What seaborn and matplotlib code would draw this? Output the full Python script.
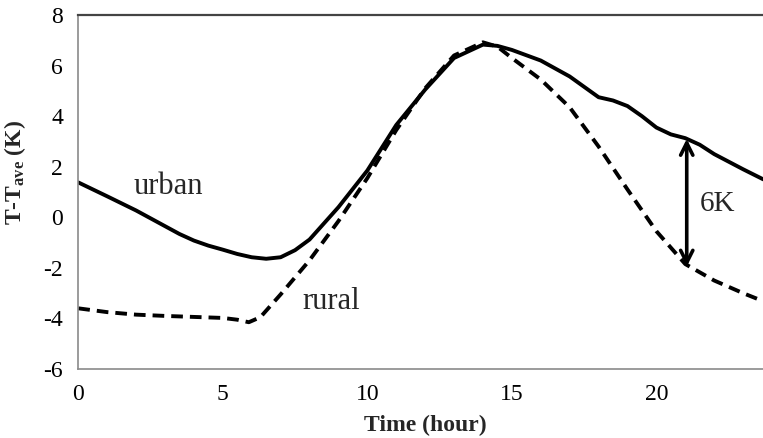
import matplotlib
matplotlib.use("Agg")
import matplotlib.pyplot as plt
import numpy as np
import pandas as pd
import seaborn as sns
from matplotlib.ticker import MultipleLocator

# ---- data ----
urban_hours = [0, 1, 2, 3, 3.5, 4, 4.5, 5, 5.5, 6, 6.5, 7, 7.5, 8, 9, 10, 11, 12, 13, 14,
               14.5, 15, 16, 17, 18, 18.5, 19, 19.5, 20, 20.5, 21, 21.5, 22, 23, 23.7]
urban_values = [1.38, 0.83, 0.27, -0.35, -0.66, -0.92, -1.12, -1.28, -1.45, -1.58, -1.64, -1.58,
                -1.3, -0.88, 0.4, 1.85, 3.65, 5.05, 6.3, 6.83,
                6.78, 6.62, 6.2, 5.57, 4.75, 4.62, 4.4, 4.0, 3.55, 3.28, 3.13, 2.87, 2.5, 1.9, 1.5]

rural_hours = [0, 1, 2, 3, 4, 5, 5.5, 5.9, 6.3, 7, 8, 9, 10, 11, 12, 13, 14,
               14.5, 15, 16, 17, 18, 19, 20, 21, 22, 23, 23.7]
rural_values = [-3.6, -3.75, -3.85, -3.9, -3.94, -3.98, -4.05, -4.15, -3.95, -3.05,
                -1.7, -0.15, 1.55, 3.45, 5.1, 6.4, 6.92,
                6.75, 6.3, 5.45, 4.35, 2.8, 1.1, -0.55, -1.85, -2.5, -3.0, -3.32]

x_ticks = [0, 5, 10, 15, 20]
y_ticks = [-6, -4, -2, 0, 2, 4, 6, 8]

urban_label = "urban"
rural_label = "rural"
gap_label = "6K"
gap_hour = 21.05
gap_top = 3.1
gap_bottom = -1.95

# ---- style ----
sns.set_style("white")
plt.rcParams["font.family"] = ["Liberation Serif", "DejaVu Serif"]
plt.rcParams["axes.unicode_minus"] = False
plt.rcParams["mathtext.fontset"] = "custom"
plt.rcParams["mathtext.rm"] = "Liberation Serif"
plt.rcParams["mathtext.bf"] = "Liberation Serif:bold"
plt.rcParams["mathtext.it"] = "Liberation Serif:italic"

fig = plt.figure(figsize=(7.63, 4.38), dpi=100)
ax = fig.add_axes([0.1026, 0.1575, 0.9092, 0.8082])

df_u = pd.DataFrame({"hour": urban_hours, "value": urban_values})
df_r = pd.DataFrame({"hour": rural_hours, "value": rural_values})

sns.lineplot(data=df_u, x="hour", y="value", ax=ax, color="black", lw=2.8)
sns.lineplot(data=df_r, x="hour", y="value", ax=ax, color="black", lw=2.8)
ax.lines[-1].set_dashes((3.0, 1.8))
for ln in ax.lines:
    ln.set_solid_joinstyle("round")

ax.set_xlim(0, 24)
ax.set_ylim(-6, 8)
ax.set_xticks(x_ticks)
ax.set_yticks(y_ticks)
ax.xaxis.set_minor_locator(MultipleLocator(1))
ax.yaxis.set_minor_locator(MultipleLocator(0.4))
ax.tick_params(axis="both", which="major", direction="out", length=5, width=1,
               color="#8a8a8a", labelsize=17, labelcolor="black", pad=6)
ax.tick_params(axis="both", which="minor", direction="out", length=4, width=1,
               color="#8a8a8a")

for s in ["left", "bottom"]:
    ax.spines[s].set_color("#8a8a8a")
    ax.spines[s].set_linewidth(1.2)
ax.spines["top"].set_color("#444444")
ax.spines["top"].set_linewidth(1.6)
ax.spines["right"].set_visible(False)

ax.set_xlabel("Time (hour)", fontsize=17, fontweight="bold", labelpad=7)
ax.set_ylabel(r"T-T$_{\mathbf{ave}}$ (K)", fontsize=17, fontweight="bold")
ax.yaxis.set_label_coords(-0.073, 0.556)

ax.text(3.1, 0.91, urban_label, fontsize=22, ha="center", va="baseline")
ax.text(8.74, -3.64, rural_label, fontsize=22, ha="center", va="baseline")
ax.text(21.5, 0.24, gap_label, fontsize=21, ha="left", va="baseline")

ax.annotate("", xy=(gap_hour, gap_top), xytext=(gap_hour, gap_bottom),
            arrowprops=dict(arrowstyle="<->", lw=2.6, color="black",
                            mutation_scale=22, shrinkA=0, shrinkB=0))

fig.savefig("out.png", dpi=100)
